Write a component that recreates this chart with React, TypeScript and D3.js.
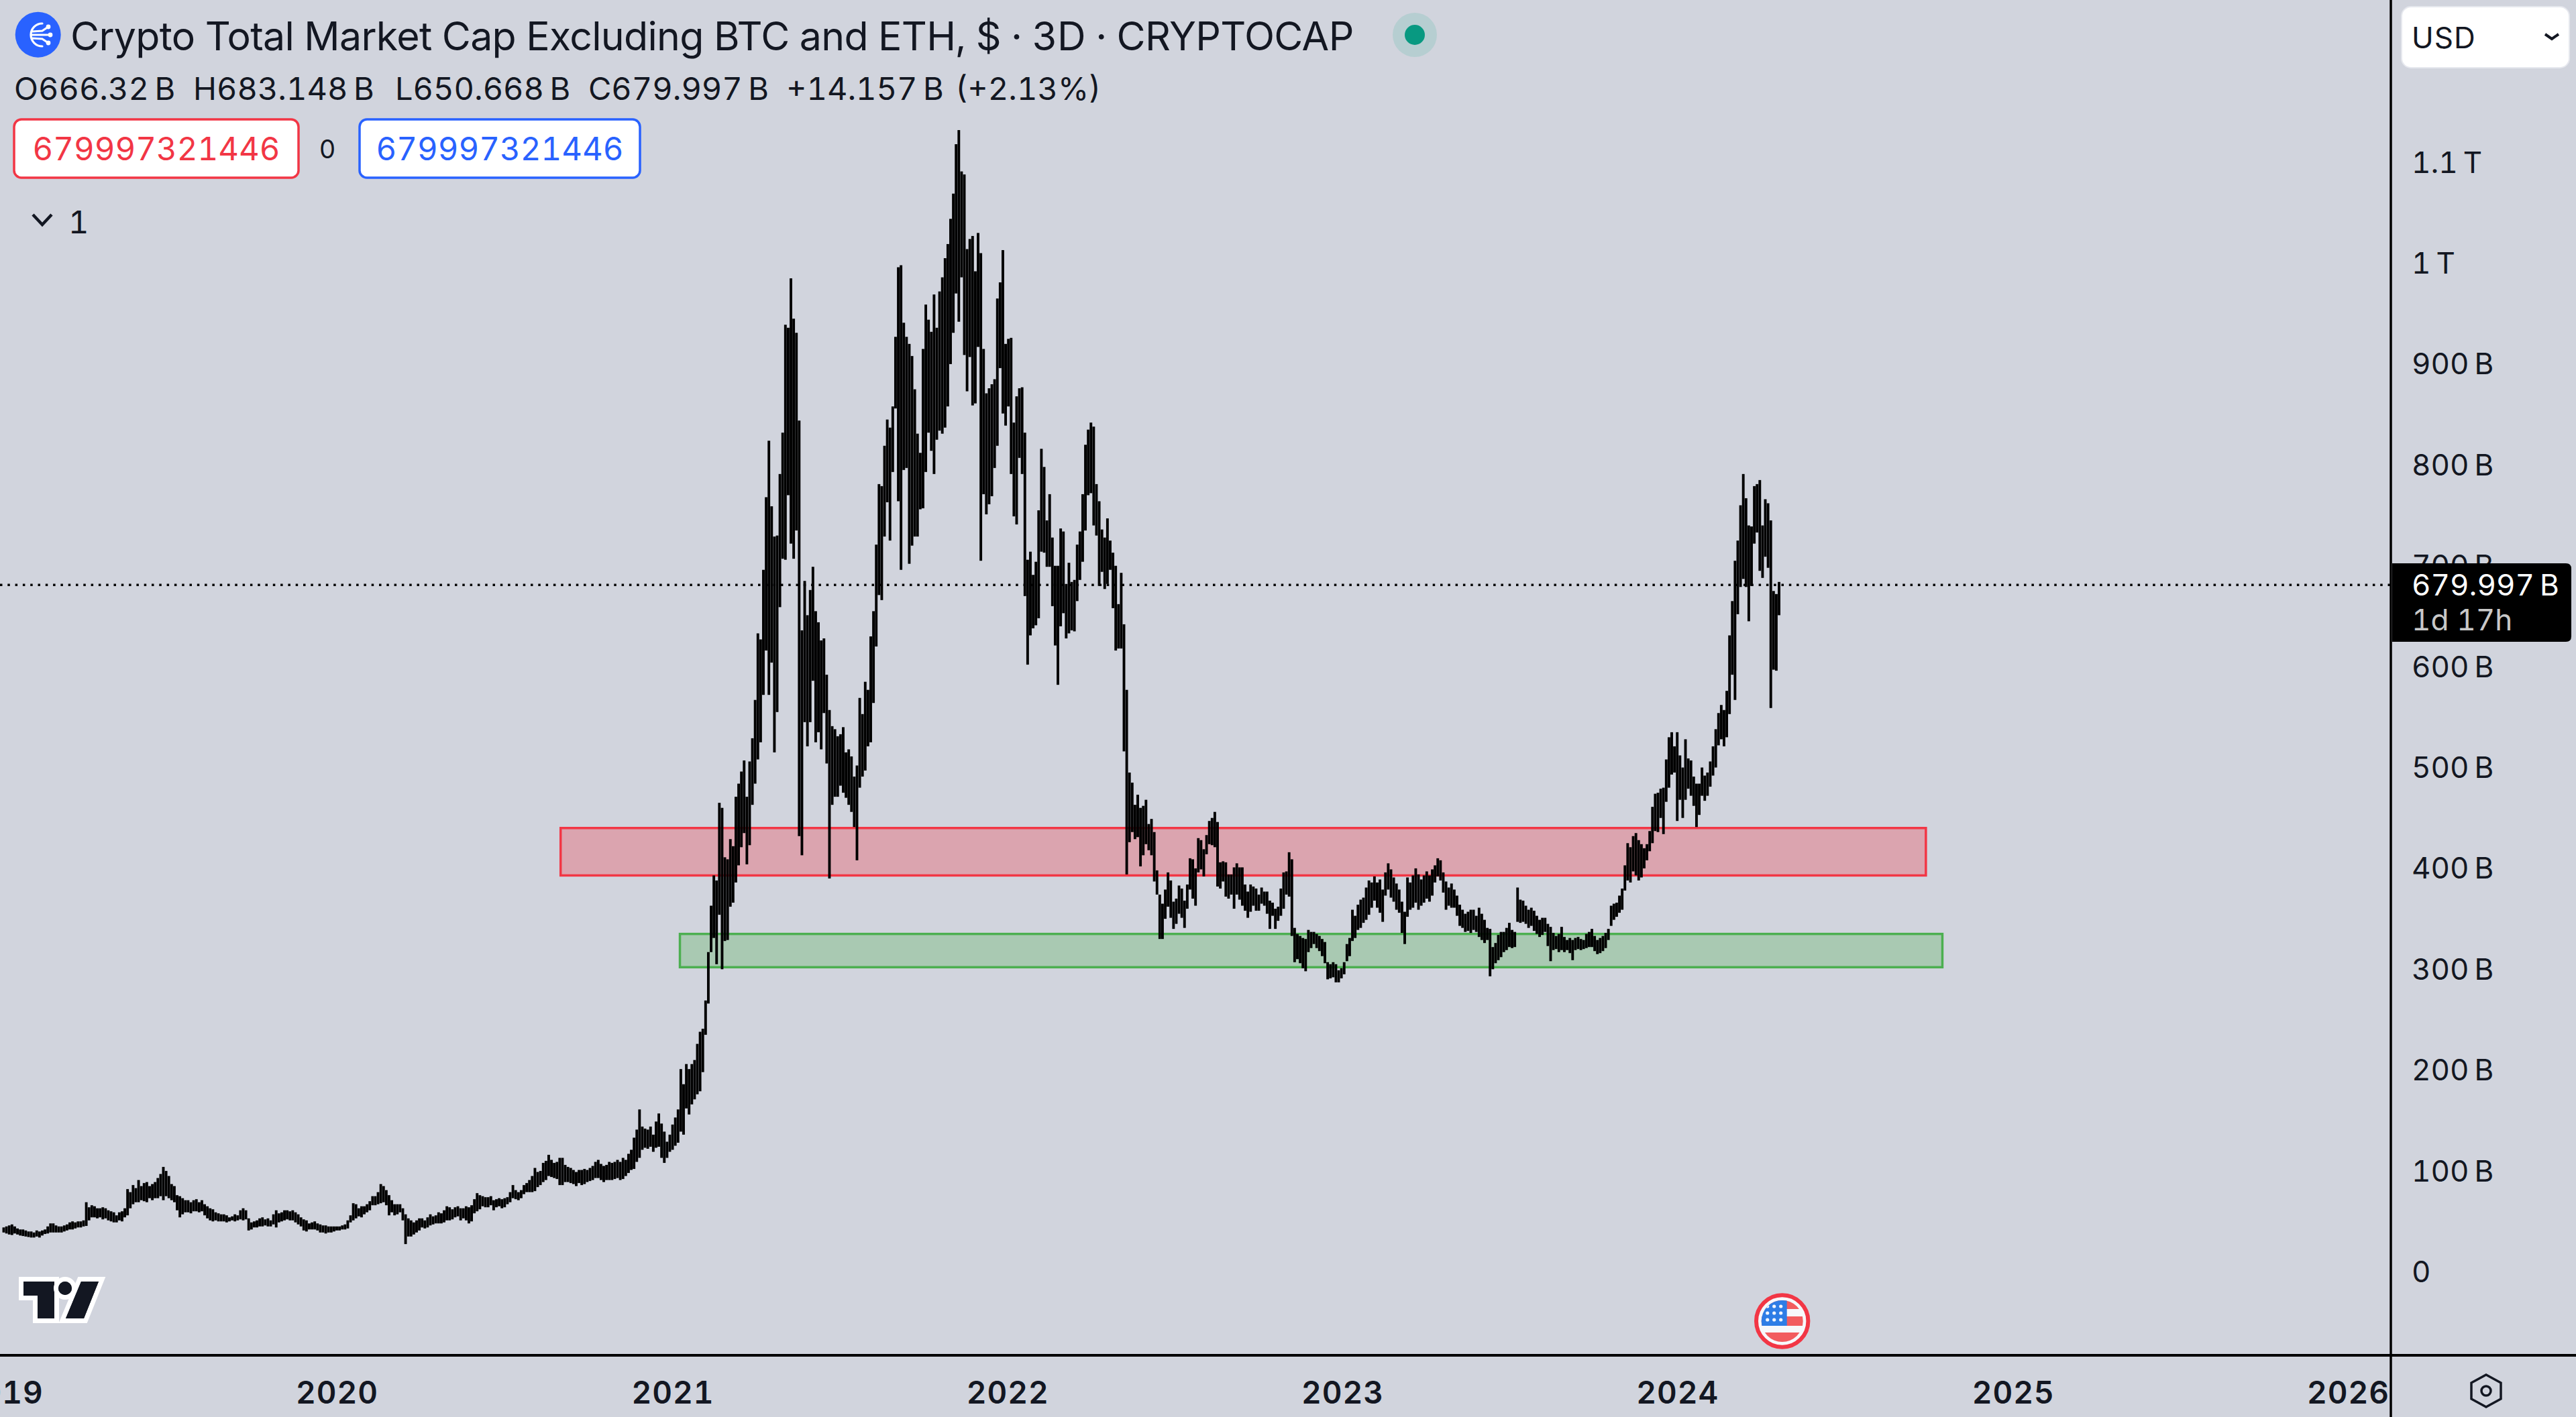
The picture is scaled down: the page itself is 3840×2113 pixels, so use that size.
import * as d3 from "d3";
import { useEffect, useRef } from "react";

const WIDTH = 3840;
const HEIGHT = 2113;
const FONT = "Inter, 'Noto Sans', sans-serif";

// one bar every 3 days, values in billions of USD
const firstBarDate = new Date(2019, 0, 3);

const barHighs = [
  43, 44, 45, 46, 44, 42, 41, 41, 40, 39,
  39, 38, 40, 39, 40, 41, 44, 47, 47, 45,
  44, 44, 45, 46, 48, 49, 48, 49, 49, 50,
  68, 63, 65, 64, 62, 62, 63, 62, 60, 59,
  58, 55, 58, 59, 62, 81, 78, 85, 82, 90,
  84, 87, 88, 84, 86, 88, 92, 96, 103, 99,
  94, 86, 84, 75, 74, 72, 70, 70, 68, 70,
  71, 68, 70, 66, 64, 62, 61, 58, 57, 56,
  56, 55, 53, 54, 56, 55, 60, 62, 60, 52,
  48, 49, 50, 52, 53, 51, 52, 50, 56, 60,
  57, 58, 60, 60, 59, 60, 58, 56, 53, 51,
  50, 47, 48, 49, 47, 46, 45, 45, 44, 44,
  44, 44, 44, 45, 46, 50, 55, 67, 66, 62,
  64, 64, 66, 69, 74, 74, 78, 86, 84, 80,
  75, 70, 66, 66, 66, 62, 56, 52, 50, 48,
  50, 52, 52, 50, 53, 56, 54, 55, 58, 57,
  60, 64, 63, 61, 63, 64, 62, 62, 64, 63,
  65, 71, 77, 75, 74, 73, 73, 74, 70, 71,
  72, 71, 72, 73, 78, 85, 80, 78, 80, 85,
  87, 90, 94, 102, 98, 99, 107, 109, 115, 110,
  107, 108, 112, 112, 105, 103, 102, 100, 98, 100,
  100, 101, 100, 102, 104, 108, 110, 106, 104, 105,
  108, 107, 108, 110, 108, 112, 110, 116, 120, 132,
  140, 160, 143, 141, 140, 143, 135, 148, 156, 146,
  138, 128, 135, 145, 152, 160, 200, 185, 205, 200,
  205, 209, 225, 237, 240, 268,
  316, 362, 392, 387, 464, 459, 410, 408, 428, 421,
  470, 483, 495, 506, 470, 505, 528, 566, 632, 626,
  695, 767, 823, 758, 728, 729, 790, 831, 938, 935,
  984, 944, 930, 843, 635, 684, 650, 675, 698, 654,
  643, 625, 627, 591, 556, 540, 537, 530, 532, 539,
  514, 517, 510, 490, 501, 568, 552, 584, 576, 629,
  654, 720, 780, 778, 818, 844, 836, 857, 926, 995,
  997, 940, 926, 919, 907, 874, 830, 811, 914, 958,
  943, 931, 968, 935, 971, 985, 1004, 1018, 1043, 1068,
  1117, 1131, 1090, 1087, 1013, 1023, 1026, 991, 1029, 1009,
  914, 870, 875, 879, 884, 964, 980, 1012, 919, 924,
  925, 841, 867, 875, 876, 831, 705, 713, 690, 703,
  754, 815, 797, 744, 770, 727, 699, 699, 736, 733,
  681, 702, 683, 685, 720, 733, 770, 819, 834, 841,
  837, 780, 763, 735, 727, 746, 724, 712, 699, 661,
  692, 641, 576, 494, 484, 462, 472, 459, 461, 467,
  443, 448, 435, 397, 373, 364, 378, 395, 387, 366,
  369, 382, 379, 367, 383, 409, 408, 399, 429, 427,
  418, 432, 446, 449, 455, 445, 405, 406, 405, 393,
  393, 400, 404, 400, 400, 383, 376, 383, 381, 379,
  373, 380, 376, 376, 367, 365, 359, 361, 379, 395,
  396, 415, 408, 340, 334, 332, 330, 329, 338, 336,
  336, 334, 332, 329, 326, 306, 304, 306, 304, 298,
  300, 306, 324, 330, 358, 352, 363, 368, 370, 380,
  387, 385, 391, 385, 388, 378, 395, 404, 398, 390,
  384, 378, 366, 356, 390, 385, 392, 399, 393, 388,
  392, 396, 392, 398, 402, 409, 407, 395, 386, 380,
  384, 378, 372, 363, 358, 354, 356, 358, 358, 352,
  360, 354, 348, 340, 339, 321, 325, 333, 336, 336,
  340, 345, 338, 336, 380, 368, 367, 362, 358, 360,
  357, 352, 348, 350, 350, 344, 341, 335, 332, 334,
  341, 331, 328, 330, 328, 330, 331, 329, 328, 334,
  336, 339, 332, 328, 330, 332, 335, 339, 362, 364,
  365, 372, 379, 402, 424, 420, 431, 434, 427, 423,
  419, 423, 436, 460, 473, 474, 478, 479, 507, 529,
  534, 520, 534, 511, 499, 527, 508, 506, 490, 483,
  483, 499, 491, 494, 505, 520, 537, 553, 561, 556,
  575, 630, 664, 704, 724, 759, 790, 766, 739, 738,
  778, 780, 784, 739, 765, 761, 744, 674, 671, 683,
];

const barLows = [
  38, 37, 36, 35.5, 37, 36, 35, 34.5, 34, 33.5,
  33, 33, 34, 33, 35, 36.5, 37, 38, 38, 38,
  38, 38, 39, 40, 41, 41, 42, 43, 43, 44,
  44.5, 50, 53, 53, 52, 53, 51, 52, 50, 49,
  48, 48, 50, 49, 53, 55, 62, 66, 68, 68,
  70, 69, 68, 72, 70, 72, 72, 74, 70, 74,
  72, 70, 68, 60, 53, 56, 58, 58, 57, 59,
  59, 58, 59, 55, 52, 50, 49, 50, 49, 49,
  49, 48, 49, 50, 49, 50, 51, 50, 51, 40,
  41, 43, 43, 44, 44, 45, 44, 44, 46, 43,
  48, 49, 50, 51, 50, 50, 48, 46, 44, 40,
  39, 41, 41, 41, 40, 38, 38, 37, 38, 38,
  39, 40, 40, 41, 41, 42, 48, 50, 52, 54,
  53, 56, 58, 60, 65, 65, 66, 67, 68, 65,
  55, 58, 55, 56, 58, 50, 26.5, 34, 34, 36,
  38, 40, 43, 42, 43, 45, 46, 47, 47, 47,
  48, 50, 50, 51, 53, 54, 50, 52, 50, 47,
  49, 57, 59, 61, 64, 63, 63, 65, 60, 63,
  64, 62, 63, 66, 68, 72, 71, 70, 72, 76,
  78, 78, 78, 79, 83, 85, 88, 90, 94, 93,
  92, 91, 85, 85, 88, 88, 87, 86, 84, 87,
  85, 86, 88, 89, 90, 92, 92, 90, 88, 90,
  90, 90, 91, 92, 90, 91, 94, 97, 100, 101,
  108, 112, 120, 122, 121, 123, 118, 122, 123, 112,
  107, 112, 118, 120, 124, 127, 138, 135, 161, 155,
  165, 170, 175, 178, 197, 234,
  265, 316, 330, 304, 353, 299, 327, 328, 361, 365,
  385, 402, 420, 434, 403, 422, 462, 483, 507, 524,
  571, 615, 571, 603, 514, 554, 658, 706, 705, 769,
  721, 706, 734, 431, 412, 544, 520, 544, 585, 524,
  534, 517, 553, 503, 389, 462, 470, 470, 481, 474,
  469, 462, 455, 440, 407, 479, 490, 496, 520, 524,
  563, 619, 670, 665, 728, 762, 724, 792, 855, 763,
  695, 794, 796, 701, 719, 728, 728, 755, 756, 792,
  831, 813, 790, 824, 833, 830, 836, 857, 899, 930,
  969, 941, 985, 908, 872, 906, 858, 860, 916, 704,
  770, 750, 760, 768, 796, 818, 895, 850, 838, 857,
  790, 748, 740, 806, 790, 669, 601, 630, 637, 640,
  647, 713, 712, 698, 698, 659, 620, 581, 639, 652,
  627, 632, 635, 634, 664, 685, 703, 734, 769, 771,
  739, 729, 679, 693, 676, 681, 695, 657, 615, 617,
  617, 515, 393, 425, 435, 428, 430, 401, 412, 423,
  417, 412, 386, 373, 329, 329, 349, 361, 350, 339,
  344, 354, 350, 340, 359, 378, 369, 362, 395, 398,
  391, 413, 423, 422, 420, 381, 379, 386, 371, 369,
  373, 359, 373, 368, 362, 357, 350, 356, 362, 357,
  357, 364, 362, 354, 339, 352, 339, 347, 352, 359,
  373, 371, 332, 306, 309, 305, 300, 297, 316, 320,
  324, 320, 317, 312, 305, 289, 290, 291, 286, 286,
  290, 294, 307, 312, 327, 330, 338, 340, 345, 348,
  353, 360, 367, 360, 355, 346, 372, 378, 370, 366,
  358, 355, 335, 324, 351, 358, 360, 365, 358, 362,
  365, 369, 366, 372, 385, 391, 387, 375, 358, 362,
  360, 360, 352, 342, 340, 336, 337, 335, 338, 336,
  331, 328, 325, 328, 292, 299, 305, 308, 311, 316,
  318, 321, 320, 321, 346, 345, 346, 344, 340, 342,
  337, 334, 331, 333, 336, 322, 307, 318, 319, 316,
  318, 316, 318, 315, 308, 318, 319, 318, 319, 320,
  321, 321, 317, 314, 315, 317, 320, 328, 342, 348,
  351, 355, 358, 377, 387, 385, 396, 392, 387, 390,
  399, 407, 416, 424, 436, 435, 449, 433, 465, 479,
  492, 494, 446, 467, 449, 467, 478, 471, 461, 440,
  452, 471, 466, 471, 480, 491, 499, 521, 527, 520,
  529, 552, 591, 566, 651, 678, 686, 678, 644, 679,
  721, 732, 694, 687, 708, 697, 558, 596, 595, 650,
];

const priceTicks = [0, 100, 200, 300, 400, 500, 600, 700, 800, 900, 1000, 1100];
const priceTickLabels = ["0", "100\u202fB", "200\u202fB", "300\u202fB", "400\u202fB", "500\u202fB", "600\u202fB", "700\u202fB", "800\u202fB", "900\u202fB", "1\u202fT", "1.1\u202fT"];
const yearTicks = [2019, 2020, 2021, 2022, 2023, 2024, 2025, 2026];

const lastPrice = 679.997;
const resistanceZone = { top: 439, bottom: 392, from: new Date(2020, 8, 1), to: new Date(2024, 8, 28) };
const supportZone = { top: 334, bottom: 301, from: new Date(2021, 0, 9), to: new Date(2024, 9, 16) };

const ohlcLabels = ["O666.32\u202fB", "H683.148\u202fB", "L650.668\u202fB", "C679.997\u202fB", "+14.157\u202fB", "(+2.13%)"];
const ohlcLabelX = [21, 288, 589, 877, 1172, 1424];

const TITLE = "Crypto Total Market Cap Excluding BTC and ETH, $ \u00b7 3D \u00b7 CRYPTOCAP";

type Svg = d3.Selection<SVGSVGElement, unknown, null, undefined>;

const addText = (svg: Svg, x: number, y: number, label: string, size: number, fill: string, anchor = "start") =>
  svg.append("text")
    .attr("x", x)
    .attr("y", y)
    .attr("dy", "0.36em")
    .attr("text-anchor", anchor)
    .attr("font-family", FONT)
    .attr("font-size", size)
    .attr("fill", fill)
    .style("font-feature-settings", "'tnum'")
    .text(label);

const drawHeader = (svg: Svg) => {
  // exchange icon
  svg.append("circle").attr("cx", 56.7).attr("cy", 51.7).attr("r", 34).attr("fill", "#2962ff");
  svg.append("path")
    .attr("d", "M63 35 A17 17 0 1 0 63 69 M47 52 H75 M48 47 L63 46 L72 40 M48 57 L63 58 L72 64")
    .attr("fill", "none").attr("stroke", "#fff").attr("stroke-width", 3.2).attr("stroke-linecap", "round");
  [[72, 40], [75, 52], [72, 64]].forEach(([cx, cy]) => {
    svg.append("circle").attr("cx", cx).attr("cy", cy).attr("r", 3.4).attr("fill", "#fff");
  });

  addText(svg, 105, 54, TITLE, 59, "#131722").attr("letter-spacing", -0.68);

  svg.append("circle").attr("cx", 2109).attr("cy", 52).attr("r", 33).attr("fill", "#b6ced1");
  svg.append("circle").attr("cx", 2109).attr("cy", 52).attr("r", 15).attr("fill", "#089981");

  ohlcLabels.forEach((label, i) => addText(svg, ohlcLabelX[i], 132, label, 47, "#131722"));

  svg.append("rect").attr("x", 21).attr("y", 178).attr("width", 424).attr("height", 87).attr("rx", 11)
    .attr("fill", "#fff").attr("stroke", "#f23645").attr("stroke-width", 3.5);
  addText(svg, 233, 222, "679997321446", 47.4, "#f23645", "middle");
  addText(svg, 488, 222, "0", 38, "#131722", "middle");
  svg.append("rect").attr("x", 536).attr("y", 178).attr("width", 418).attr("height", 87).attr("rx", 11)
    .attr("fill", "#fff").attr("stroke", "#2962ff").attr("stroke-width", 3.5);
  addText(svg, 745, 222, "679997321446", 47.4, "#2962ff", "middle");

  svg.append("path").attr("d", "M49 320 L63 335 L77 320")
    .attr("fill", "none").attr("stroke", "#131722").attr("stroke-width", 4.5);
  addText(svg, 102, 331, "1", 47, "#131722");
};

const drawLogo = (svg: Svg) => {
  const g = svg.append("g").attr("fill", "#131722")
    .attr("stroke", "#fff").attr("stroke-width", 14).attr("paint-order", "stroke").attr("stroke-linejoin", "miter");
  g.append("path").attr("d", "M35 1911 H81 V1966 H56 V1932 H35 Z");
  g.append("circle").attr("cx", 97).attr("cy", 1921).attr("r", 10);
  g.append("path").attr("d", "M121 1911 H147 L125 1966 H98 Z");
  // the white outline sits behind every shape
  g.selectAll("*").clone(true).attr("stroke", "none");
};

const drawFlag = (svg: Svg) => {
  const cx = 2656.7;
  const cy = 1970;
  svg.append("clipPath").attr("id", "flag-clip").append("circle").attr("cx", cx).attr("cy", cy).attr("r", 31);
  svg.append("circle").attr("cx", cx).attr("cy", cy).attr("r", 41).attr("fill", "#f7f8fb");
  const g = svg.append("g").attr("clip-path", "url(#flag-clip)");
  const redStripes = [[-31, 13], [-7, 14], [17, 14]];
  redStripes.forEach(([offset, size]) => {
    g.append("rect").attr("x", cx - 40).attr("y", cy + offset).attr("width", 80)
      .attr("height", size).attr("fill", "#f25c5f");
  });
  g.append("rect").attr("x", cx - 40).attr("y", cy - 40).attr("width", 47).attr("height", 47).attr("fill", "#2e7de6");
  d3.range(3).forEach((row) => d3.range(3).forEach((col) => {
    g.append("circle").attr("cx", cx - 22 + col * 10).attr("cy", cy - 22 + row * 10).attr("r", 2.6).attr("fill", "#f2f6fd");
  }));
  svg.append("circle").attr("cx", cx).attr("cy", cy).attr("r", 38.7)
    .attr("fill", "none").attr("stroke", "#f23645").attr("stroke-width", 6);
};

const drawChart = (svg: Svg) => {
  const xScale = d3.scaleTime()
    .domain([new Date(2020, 0, 1), new Date(2026, 0, 1)])
    .range([502, 3500]);
  const yScale = d3.scaleLinear()
    .domain([0, 1100])
    .range([1895, 240.6]);

  const barDate = (i: number) => d3.timeDay.offset(firstBarDate, i * 3);

  const zones = [
    { ...resistanceZone, color: "#f23645" },
    { ...supportZone, color: "#4caf50" },
  ];
  svg.append("g").selectAll("rect").data(zones).join("rect")
    .attr("x", (d) => xScale(d.from))
    .attr("y", (d) => yScale(d.top))
    .attr("width", (d) => xScale(d.to) - xScale(d.from))
    .attr("height", (d) => yScale(d.bottom) - yScale(d.top))
    .attr("fill", (d) => d.color)
    .attr("fill-opacity", 0.3)
    .attr("stroke", (d) => d.color)
    .attr("stroke-width", 3.5);

  svg.append("line")
    .attr("x1", 0).attr("x2", 3564)
    .attr("y1", yScale(lastPrice)).attr("y2", yScale(lastPrice))
    .attr("stroke", "#000").attr("stroke-width", 3.5).attr("stroke-dasharray", "3.5 7.8");

  svg.append("g").attr("fill", "#000")
    .selectAll("rect").data(barHighs).join("rect")
    .attr("x", (_, i) => xScale(barDate(i)) - 1.95)
    .attr("width", 3.9)
    .attr("y", (d) => yScale(d))
    .attr("height", (d, i) => yScale(barLows[i]) - yScale(d));

  const yAxis = svg.append("g")
    .attr("transform", "translate(3595,2.5)")
    .call(d3.axisRight(yScale)
      .tickValues(priceTicks)
      .tickSize(0)
      .tickPadding(0)
      .tickFormat((_, i) => priceTickLabels[i]));
  yAxis.select(".domain").remove();
  yAxis.selectAll("text")
    .attr("font-family", FONT).attr("font-size", 44).attr("fill", "#131722")
    .style("font-feature-settings", "'tnum'");

  const xAxis = svg.append("g")
    .attr("transform", "translate(0,2021)")
    .call(d3.axisBottom(xScale)
      .tickValues(yearTicks.map((year) => new Date(year, 0, 1)))
      .tickSize(0)
      .tickPadding(0)
      .tickFormat((d) => String((d as Date).getFullYear())));
  xAxis.select(".domain").remove();
  xAxis.selectAll("text")
    .attr("dy", 72)
    .attr("y", 0)
    .attr("font-family", FONT).attr("font-size", 46).attr("font-weight", 600).attr("fill", "#131722")
    .attr("letter-spacing", 1)
    .style("font-feature-settings", "'tnum'");

  // panel borders
  svg.append("line").attr("x1", 3564).attr("x2", 3564).attr("y1", 0).attr("y2", HEIGHT).attr("stroke", "#000").attr("stroke-width", 3.5);
  svg.append("line").attr("x1", 0).attr("x2", WIDTH).attr("y1", 2021).attr("y2", 2021).attr("stroke", "#000").attr("stroke-width", 4);

  // last price tag
  svg.append("path").attr("d", "M3566 840 H3825 Q3833 840 3833 848 V949 Q3833 957 3825 957 H3566 Z").attr("fill", "#000");
  addText(svg, 3595, 872.5, "679.997\u202fB", 44, "#fff");
  addText(svg, 3595, 924.5, "1d 17h", 44, "#c8c8c8");

  // currency box
  svg.append("rect").attr("x", 3580).attr("y", 10).attr("width", 250).attr("height", 91).attr("rx", 14)
    .attr("fill", "#fff").attr("stroke", "#e6e8ee").attr("stroke-width", 2);
  addText(svg, 3595, 56, "USD", 44, "#131722").attr("letter-spacing", 1);
  svg.append("path").attr("d", "M3794 51 L3804 58 L3814 51").attr("fill", "none").attr("stroke", "#131722").attr("stroke-width", 4);

  // settings hexagon
  svg.append("path").attr("d", "M3706 2050 L3728 2062 V2086 L3706 2098 L3684 2086 V2062 Z")
    .attr("fill", "none").attr("stroke", "#131722").attr("stroke-width", 3.5);
  svg.append("circle").attr("cx", 3706).attr("cy", 2074).attr("r", 7)
    .attr("fill", "none").attr("stroke", "#131722").attr("stroke-width", 3.5);
};

const App = () => {
  const svgRef = useRef<SVGSVGElement>(null);

  useEffect(() => {
    if (!svgRef.current) return;
    const svg = d3.select(svgRef.current);
    svg.selectAll("*").remove();
    svg.append("rect").attr("width", WIDTH).attr("height", HEIGHT).attr("fill", "#d1d4dd");
    drawChart(svg);
    drawHeader(svg);
    drawLogo(svg);
    drawFlag(svg);
  }, []);

  return (
    <svg
      ref={svgRef}
      width={WIDTH}
      height={HEIGHT}
      viewBox={`0 0 ${WIDTH} ${HEIGHT}`}
      style={{ position: "absolute", left: 0, top: 0, display: "block" }}
    />
  );
};

export default App;
